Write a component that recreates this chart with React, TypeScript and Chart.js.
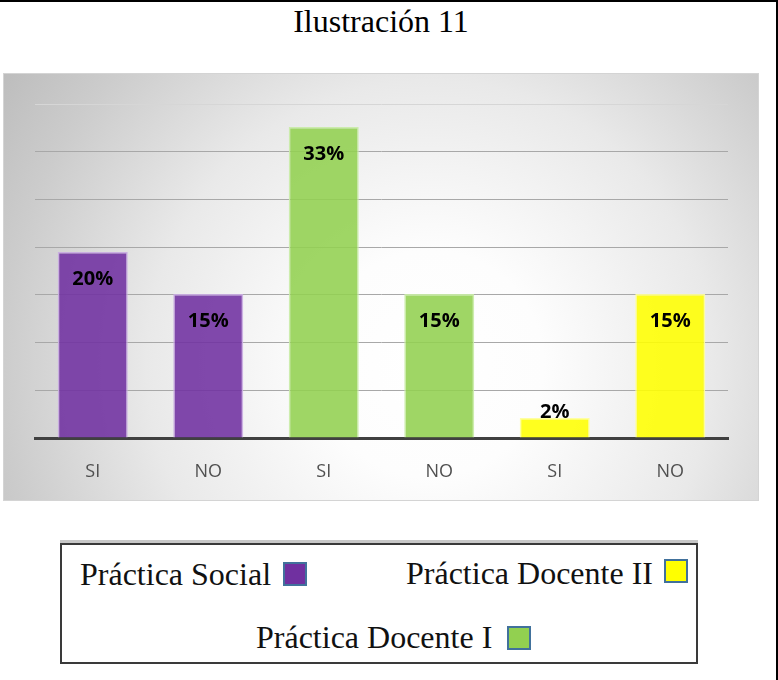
import React, { useEffect, useRef } from "react";
import { Chart, registerables } from "chart.js";

Chart.register(...registerables);

const categories = ["SI", "NO", "SI", "NO", "SI", "NO"];
const values = [19.5, 15.1, 32.6, 15.1, 2.1, 15.1];
const valueLabels = ["20%", "15%", "33%", "15%", "2%", "15%"];
const groups = ["Práctica Social", "Práctica Social", "Práctica Docente I", "Práctica Docente I", "Práctica Docente II", "Práctica Docente II"];
const legendNames = ["Práctica Social", "Práctica Docente II", "Práctica Docente I"];
const groupFill: Record<string, string> = {
  "Práctica Social": "rgba(112,48,160,0.88)",
  "Práctica Docente I": "rgba(146,208,80,0.88)",
  "Práctica Docente II": "rgba(255,255,0,0.88)",
};
const groupBorder: Record<string, string> = {
  "Práctica Social": "rgba(200,170,225,0.9)",
  "Práctica Docente I": "rgba(200,235,165,0.9)",
  "Práctica Docente II": "rgba(255,255,150,0.9)",
};
const swatchFill: Record<string, string> = {
  "Práctica Social": "#7030A0",
  "Práctica Docente I": "#92D050",
  "Práctica Docente II": "#FFFF00",
};
const yMax = 35;
const yStep = 5;

const bgPlugin = {
  id: "panelBg",
  beforeDraw(chart: any) {
    const { ctx, width, height } = chart;
    const cx = 426, cy = 290;
    const r = Math.hypot(Math.max(cx, width - cx), Math.max(cy, height - cy));
    const g = ctx.createRadialGradient(cx, cy, 0, cx, cy, r);
    g.addColorStop(0, "#ffffff");
    g.addColorStop(0.22, "#fdfdfd");
    g.addColorStop(0.55, "#e9e9e9");
    g.addColorStop(0.83, "#cccccc");
    g.addColorStop(1, "#bdbdbd");
    ctx.save();
    ctx.fillStyle = g;
    ctx.fillRect(0, 0, width, height);
    ctx.restore();
  },
};

const labelPlugin = {
  id: "barLabels",
  afterDatasetsDraw(chart: any) {
    const { ctx } = chart;
    const meta = chart.getDatasetMeta(0);
    ctx.save();
    ctx.font = 'bold 20px "Open Sans"';
    ctx.fillStyle = "#000000";
    ctx.textAlign = "center";
    ctx.textBaseline = "middle";
    meta.data.forEach((bar: any, i: number) => {
      const y = Math.min(bar.y + 27, bar.base - 25);
      ctx.fillText(valueLabels[i], bar.x, y);
    });
    ctx.restore();
  },
};

function BarChart() {
  const ref = useRef<HTMLCanvasElement>(null);
  useEffect(() => {
    if (!ref.current) return;
    const chart = new Chart(ref.current, {
      type: "bar",
      data: {
        labels: categories,
        datasets: [
          {
            data: values,
            backgroundColor: groups.map((g) => groupFill[g]),
            borderColor: groups.map((g) => groupBorder[g]),
            borderWidth: 1.5,
            barPercentage: 0.606,
            categoryPercentage: 1,
          },
        ],
      },
      options: {
        animation: false,
        responsive: false,
        maintainAspectRatio: false,
        devicePixelRatio: 1,
        layout: { padding: { left: 31, right: 30, top: 30, bottom: 0 } },
        plugins: { legend: { display: false }, tooltip: { enabled: false }, title: { display: false } },
        scales: {
          x: {
            grid: { display: false },
            border: { display: true, color: "#404040", width: 3 },
            ticks: { color: "#505050", font: { family: "Open Sans", size: 18 }, padding: 15 },
            afterFit: (s: any) => { s.height = 62; },
          },
          y: {
            min: 0,
            max: yMax,
            ticks: { display: false, stepSize: yStep },
            border: { display: false },
            grid: {
              drawTicks: false,
              color: (c: any) => (c.tick && c.tick.value === yMax ? "#d6d6d6" : "#a8a8a8"),
              lineWidth: 1,
            },
            afterFit: (s: any) => { s.width = 0; },
          },
        },
      },
      plugins: [bgPlugin, labelPlugin],
    });
    return () => chart.destroy();
  }, []);
  return <canvas ref={ref} width={754} height={426} style={{ display: "block", width: 754, height: 426 }} />;
}

const serif = '"Liberation Serif", "Times New Roman", serif';

export default function App() {
  const text = (s: string, left: number, top: number) => (
    <div style={{ position: "absolute", left, top, fontFamily: serif, fontSize: 32, lineHeight: 1, color: "#111", whiteSpace: "nowrap" }}>{s}</div>
  );
  const swatch = (g: string, left: number, top: number) => (
    <div style={{ position: "absolute", left, top, width: 24, height: 24, boxSizing: "border-box", background: swatchFill[g], border: "2px solid #41719C" }} />
  );
  return (
    <div style={{ position: "absolute", left: 0, top: 0, width: 778, height: 680, background: "#fff", overflow: "hidden" }}>
      <div style={{ position: "absolute", left: 0, top: 0, width: 778, height: 2, background: "#000" }} />
      <div style={{ position: "absolute", left: 776, top: 0, width: 2, height: 680, background: "#000" }} />
      <div style={{ position: "absolute", left: 0, top: 5, width: 762, textAlign: "center", fontFamily: serif, fontSize: 32, lineHeight: 1, color: "#000" }}>
        Ilustración 11
      </div>
      <div style={{ position: "absolute", left: 4, top: 74, width: 754, height: 426, boxShadow: "0 0 0 1px #d4d4d4" }}>
        <BarChart />
      </div>
      <div style={{ position: "absolute", left: 60, top: 540, width: 638, height: 3, background: "#c8c8c8" }} />
      <div style={{ position: "absolute", left: 60, top: 543, width: 638, height: 121, boxSizing: "border-box", border: "2px solid #3a3a3a" }} />
      {text(legendNames[0], 80, 558)}
      {swatch(legendNames[0], 283, 562)}
      {text(legendNames[1], 406, 557)}
      {swatch(legendNames[1], 664, 559)}
      {text(legendNames[2], 256, 621)}
      {swatch(legendNames[2], 507, 626)}
    </div>
  );
}
